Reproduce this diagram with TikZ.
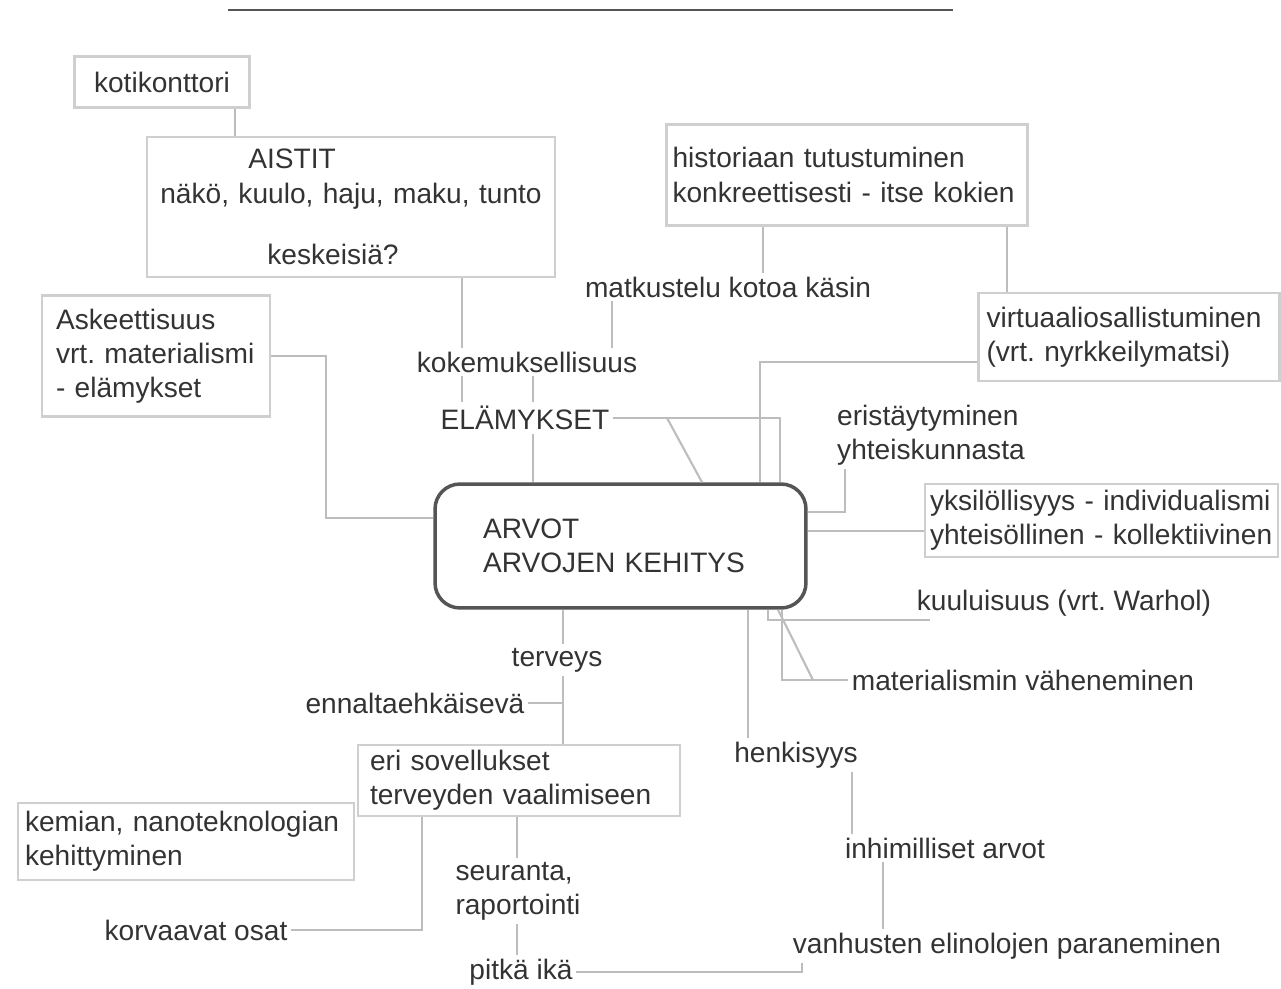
\documentclass[tikz,border=0pt]{standalone}
\usepackage{fontspec}
\setmainfont{Liberation Sans}
\usepackage{tikz}
\usetikzlibrary{positioning, calc}
\frenchspacing
\definecolor{inkgray}{HTML}{333333}
\definecolor{boxgray}{HTML}{CFCFCF}
\definecolor{linegray}{HTML}{BDBDBD}
\definecolor{rulegray}{HTML}{555555}
\tikzset{
  lbox/.style={rectangle,draw=boxgray,line width=1.5pt,align=left,inner ysep=0pt,text=inkgray,font=\fontsize{16}{19.5}\selectfont},
  mainbox/.style={rectangle,rounded corners=0.5cm,draw=rulegray,line width=2pt,align=left,text=inkgray,font=\fontsize{16}{19.5}\selectfont},
  txt/.style={inner sep=2pt,align=left,text=inkgray,font=\fontsize{16}{19.5}\selectfont},
  link/.style={draw=linegray,line width=1.2pt}
}

\begin{document}
\begin{tikzpicture}[x=0.02cm, y=-0.02cm]
  \useasboundingbox (0,0) rectangle (1281,989);
  \draw[rulegray,line width=1.2pt] (228,10) -- (953,10);

  % center
  \node[mainbox,text width=5.5cm,inner xsep=0.96cm,minimum height=2.48cm] (arvot) at (620.5,546) {ARVOT\\ ARVOJEN KEHITYS};

  % boxes
  \node[lbox,align=center,text width=3.1cm,inner xsep=0.2cm,minimum height=1.02cm] (koti) at (162,82) {kotikonttori};
  \node[lbox,align=center,text width=7.76cm,inner xsep=0.2cm,minimum height=2.8cm] (aistit) at (351,207)
    {AISTIT\hspace*{2.36cm}\mbox{}\\ näkö, kuulo, haju, maku, tunto\\[0.54cm] keskeisiä?\hspace*{0.72cm}\mbox{}};
  \node[lbox,text width=4.0cm,inner xsep=0.28cm,minimum height=2.42cm] (askeet) at (156,356)
    {Askeettisuus\\ vrt. materialismi\\ - elämykset};
  \node[lbox,text width=6.98cm,inner xsep=0.12cm,minimum height=2.02cm] (histo) at (847,175)
    {historiaan tutustuminen\\ konkreettisesti - itse kokien};
  \node[lbox,text width=5.7cm,inner xsep=0.16cm,minimum height=1.76cm] (virtu) at (1129,337)
    {virtuaaliosallistuminen\\ (vrt. nyrkkeilymatsi)};
  \node[lbox,text width=6.86cm,inner xsep=0.1cm,minimum height=1.46cm] (yksi) at (1101.5,520.5)
    {yksilöllisyys - individualismi\\ yhteisöllinen - kollektiivinen};
  \node[lbox,text width=5.96cm,inner xsep=0.24cm,minimum height=1.42cm] (eri) at (519,780.5)
    {eri sovellukset\\ terveyden vaalimiseen};
  \node[lbox,text width=6.44cm,inner xsep=0.14cm,minimum height=1.54cm] (kemian) at (186,841.5)
    {kemian, nanoteknologian\\ kehittyminen};

  % plain labels
  \node[txt] (koki) at (527,362) {kokemuksellisuus};
  \node[txt] (elam) at (525,418) {ELÄMYKSET};
  \node[txt] (matk) at (728,287) {matkustelu kotoa käsin};
  \node[txt] (eris) at (931,435) {eristäytyminen\\ yhteiskunnasta};
  \node[txt] (kuul) at (1064,603) {kuuluisuus (vrt. Warhol)};
  \node[txt] (mate) at (1023,680) {materialismin väheneminen};
  \node[txt] (terv) at (557,660) {terveys};
  \node[txt] (enna) at (415,703) {ennaltaehkäisevä};
  \node[txt] (henk) at (796,755) {henkisyys};
  \node[txt] (inhi) at (945,848) {inhimilliset arvot};
  \node[txt] (vanh) at (1007,946) {vanhusten elinolojen paraneminen};
  \node[txt] (seur) at (518,891) {seuranta,\\ raportointi};
  \node[txt] (pitk) at (521,972) {pitkä ikä};
  \node[txt] (korv) at (196,930) {korvaavat osat};

  % upper links
  \draw[link] (koti.south -| 235,0) -- (aistit.north -| 235,0);
  \draw[link] (askeet.east) -| (326,518) -- (arvot.west |- 0,518);
  \draw[link] (aistit.south -| 462,0) -- (koki.north -| 462,0);
  \draw[link] (koki.south -| 462,0) -- (elam.north -| 462,0);
  \draw[link] (matk.south -| 612,0) -- (koki.north -| 612,0);
  \draw[link] (koki.south -| 533,0) -- (elam.north -| 533,0);
  \draw[link] (elam.south -| 533,0) -- (arvot.north -| 533,0);
  \draw[link] (elam.east) -| (arvot.north -| 780,0);
  \draw[link] (elam.east -| 667,0) -- (arvot.north -| 702,0);
  \draw[link] (histo.south -| 763,0) -- (matk.north -| 763,0);
  \draw[link] (histo.south -| 1007,0) -- (virtu.north -| 1007,0);
  \draw[link] (virtu.west |- 0,362) -| (arvot.north -| 760,0);

  % right links
  \draw[link] (eris.south -| 845,0) |- (arvot.east |- 0,512);
  \draw[link] (arvot.east |- 0,531) -- (yksi.west |- 0,531);
  \draw[link] (arvot.south -| 768,0) |- (kuul.south -| 930,0);
  \draw[link] (arvot.south -| 782,0) |- (mate.west);
  \draw[link] (arvot.south -| 778,0) -- (mate.west -| 813,0);

  % lower links
  \draw[link] (arvot.south -| 563,0) -- (terv.north -| 563,0);
  \draw[link] (terv.south -| 563,0) -- (eri.north -| 563,0);
  \draw[link] (enna.east) -- (enna.east -| 563,0);
  \draw[link] (eri.south -| 517,0) -- (seur.north -| 517,0);
  \draw[link] (seur.south -| 517,0) -- (pitk.north -| 517,0);
  \draw[link] (eri.south -| 422,0) |- (korv.east);
  \draw[link] (arvot.south -| 748,0) -- (henk.north -| 748,0);
  \draw[link] (henk.south -| 852,0) -- (inhi.north -| 852,0);
  \draw[link] (inhi.south -| 883,0) -- (vanh.north -| 883,0);
  \draw[link] (vanh.south -| 802,0) |- (pitk.east);
\end{tikzpicture}
\end{document}
